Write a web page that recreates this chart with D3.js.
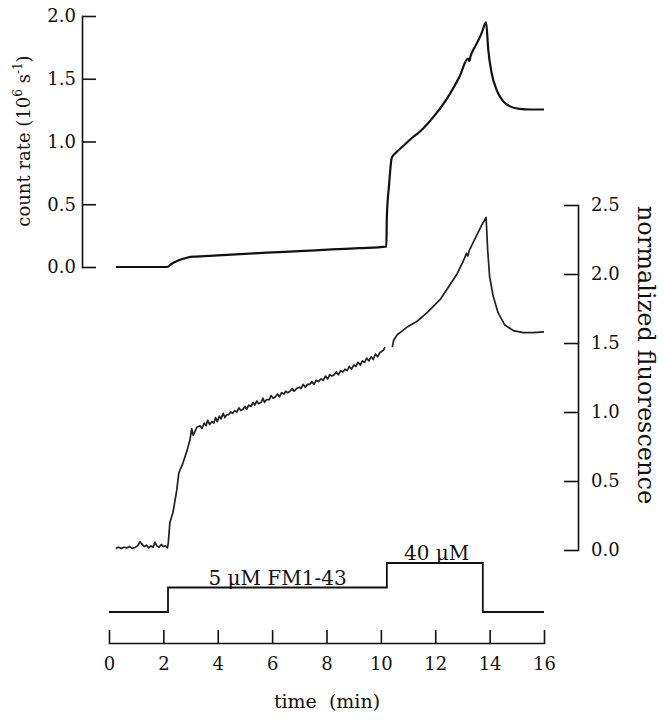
<!DOCTYPE html>
<html>
<head>
<meta charset="utf-8">
<script src="https://cdn.jsdelivr.net/npm/d3@7"></script>
<style>
  html, body { margin: 0; padding: 0; background: #fff; }
  svg { display: block; font-family: "DejaVu Serif", "Liberation Serif", serif; }
  .axis path, .axis line { stroke: #111; stroke-width: 1.6px; }
  .axis text { font-size: 18px; fill: #111; font-family: "DejaVu Serif", serif; }
</style>
</head>
<body>
<svg id="chart" width="665" height="720"></svg>
<script>
// ---- Data ----
const timeTicks = [0, 2, 4, 6, 8, 10, 12, 14, 16];
const countTicks = [0.0, 0.5, 1.0, 1.5, 2.0];
const fluoTicks = [0.0, 0.5, 1.0, 1.5, 2.0, 2.5];

// count rate (10^6 s^-1) vs time (min)
const countTime = [0.25, 1.0, 2.1, 2.17, 2.3, 2.45, 2.6, 2.8, 3.1, 4.0, 5.0, 5.8, 7.0, 8.2, 9.2, 10.2,
  10.22, 10.3, 10.4, 10.55, 10.8, 11.1, 11.44, 11.75, 12.06, 12.3, 12.54, 12.9, 13.2, 13.25, 13.3, 13.5, 13.7, 13.87,
  13.95, 14.07, 14.26, 14.5, 14.75, 15.1, 15.5, 16.0];
const countRate = [0.0, 0.0, 0.0, 0.002, 0.025, 0.042, 0.056, 0.07, 0.082, 0.092, 0.104, 0.114, 0.126, 0.14, 0.15, 0.162,
  0.4, 0.65, 0.87, 0.91, 0.96, 1.02, 1.08, 1.15, 1.23, 1.3, 1.38, 1.52, 1.66, 1.64, 1.68, 1.77, 1.86, 1.95,
  1.73, 1.55, 1.41, 1.32, 1.28, 1.26, 1.255, 1.255];

// normalized fluorescence vs time (min); null marks the gap in the record
const fluoTime = [0.25, 0.35, 0.45, 0.55, 0.65, 0.75, 0.85, 0.95, 1.05, 1.14, 1.22, 1.3, 1.38, 1.46, 1.55, 1.62, 1.69,
  1.76, 1.84, 1.92, 2.0, 2.08, 2.15,
  2.18, 2.24, 2.35, 2.49, 2.57, 2.72, 2.87, 2.98, 3.04, 3.1, 3.23,
  3.35, 3.42, 3.5, 3.57, 3.63, 3.7, 3.78, 3.86, 3.92, 3.98, 4.06, 4.12, 4.2, 4.26, 4.33, 4.4, 4.48, 4.55, 4.62, 4.7,
  4.78, 4.85, 4.93, 5.0, 5.06, 5.14, 5.22, 5.3, 5.36, 5.44, 5.5, 5.6, 5.66, 5.72, 5.8, 5.9, 5.96, 6.04, 6.12, 6.2,
  6.27, 6.35, 6.44, 6.5, 6.58, 6.66, 6.74, 6.8, 6.9, 7.0, 7.06, 7.14, 7.22, 7.3, 7.38, 7.46, 7.54, 7.62, 7.7, 7.8,
  7.88, 7.96, 8.04, 8.12, 8.2, 8.28, 8.36, 8.44, 8.52, 8.6, 8.68, 8.76, 8.84, 8.92, 9.0, 9.08, 9.16, 9.24, 9.32, 9.4,
  9.48, 9.56, 9.64, 9.72, 9.8, 9.88, 9.96, 10.04, 10.1, 10.15, 10.28,
  10.42, 10.47, 10.6, 10.8, 11.0, 11.35, 11.7, 12.0, 12.2, 12.5, 12.8, 13.0, 13.15, 13.2, 13.25, 13.5, 13.7, 13.87,
  13.93, 14.0, 14.13, 14.31, 14.56, 14.87, 15.24, 15.6, 16.0];
const fluoValue = [0.012, 0.02, 0.012, 0.02, 0.015, 0.025, 0.012, 0.018, 0.03, 0.06, 0.04, 0.025, 0.035, 0.015, 0.03, 0.02, 0.055,
  0.03, 0.02, 0.04, 0.025, 0.03, 0.015,
  0.05, 0.2, 0.27, 0.43, 0.56, 0.63, 0.72, 0.8, 0.88, 0.83, 0.89,
  0.9, 0.88, 0.92, 0.9, 0.94, 0.91, 0.93, 0.92, 0.96, 0.93, 0.97, 0.95, 0.99, 0.96, 0.98, 0.98, 1.0, 0.99, 1.01, 1.0,
  1.03, 1.01, 1.02, 1.04, 1.02, 1.05, 1.04, 1.07, 1.05, 1.08, 1.06, 1.07, 1.1, 1.07, 1.09, 1.09, 1.12, 1.1, 1.11, 1.13,
  1.11, 1.14, 1.13, 1.15, 1.14, 1.15, 1.17, 1.15, 1.17, 1.18, 1.17, 1.2, 1.18, 1.2, 1.2, 1.22, 1.2, 1.23, 1.22, 1.24,
  1.23, 1.26, 1.24, 1.27, 1.26, 1.27, 1.29, 1.27, 1.3, 1.29, 1.31, 1.3, 1.33, 1.31, 1.34, 1.33, 1.36, 1.34, 1.37, 1.36,
  1.39, 1.37, 1.4, 1.38, 1.42, 1.4, 1.43, 1.44, 1.45, 1.47, null,
  1.47, 1.52, 1.56, 1.59, 1.62, 1.66, 1.72, 1.78, 1.82, 1.91, 2.0, 2.08, 2.15, 2.13, 2.17, 2.27, 2.35, 2.41,
  2.17, 1.98, 1.84, 1.72, 1.63, 1.59, 1.575, 1.575, 1.58];

// stimulus protocol: level index (0 = none, 1 = 5 µM, 2 = 40 µM)
const stimTime = [0, 2.17, 10.22, 13.75, 16];
const stimLevel = [0, 1, 2, 0, 0];
const stimLabels = [{t: 6.2, level: 1, text: "5 \u03bcM FM1-43"}, {t: 12.05, level: 2, text: "40 \u03bcM"}];

// ---- Scales ----
const svg = d3.select("#chart");
const x = d3.scaleLinear().domain([0, 16]).range([109, 544]);
const yCount = d3.scaleLinear().domain([0, 2]).range([267, 16]);
const yFluo = d3.scaleLinear().domain([0, 2.5]).range([550, 205]);
const yStim = d3.scaleLinear().domain([0, 2]).range([612, 563]);

// ---- Axes ----
const fmt = d3.format(".1f");
svg.append("g").attr("class", "axis").attr("transform", "translate(82,0)")
  .call(d3.axisLeft(yCount).tickValues(countTicks).tickFormat(fmt).tickSizeInner(-14).tickSizeOuter(0).tickPadding(6));
svg.append("g").attr("class", "axis").attr("transform", "translate(578,0)")
  .call(d3.axisRight(yFluo).tickValues(fluoTicks).tickFormat(fmt).tickSizeInner(-14).tickSizeOuter(0).tickPadding(13));
svg.append("g").attr("class", "axis").attr("transform", "translate(0,643)")
  .call(d3.axisBottom(x).tickValues(timeTicks).tickFormat(d3.format("d")).tickSizeInner(-13).tickSizeOuter(0).tickPadding(14));
svg.selectAll(".axis .domain").attr("stroke-linecap", "square");

// ---- Axis titles ----
const lt = svg.append("text")
  .attr("transform", "translate(30,141) rotate(-90)")
  .attr("text-anchor", "middle").attr("font-size", 18).attr("fill", "#111");
lt.append("tspan").text("count rate (10");
lt.append("tspan").attr("dy", -8).attr("font-size", 12).text("6");
lt.append("tspan").attr("dy", 8).text(" s");
lt.append("tspan").attr("dy", -8).attr("font-size", 12).text("-1");
lt.append("tspan").attr("dy", 8).text(")");

svg.append("text")
  .attr("transform", "translate(638,355) rotate(90)")
  .attr("text-anchor", "middle").attr("font-size", 24).attr("fill", "#111")
  .text("normalized fluorescence");

svg.append("text")
  .attr("x", 327).attr("y", 708)
  .attr("text-anchor", "middle").attr("font-size", 19).attr("fill", "#111")
  .style("white-space", "pre")
  .text("time  (min)");

// ---- Traces ----
const countData = countTime.map((t, i) => ({t, v: countRate[i]}));
svg.append("path").datum(countData)
  .attr("fill", "none").attr("stroke", "#111").attr("stroke-width", 2.2).attr("stroke-linejoin", "round")
  .attr("d", d3.line().x(d => x(d.t)).y(d => yCount(d.v)).curve(d3.curveMonotoneX));

const fluoData = fluoTime.map((t, i) => ({t, v: fluoValue[i]}));
svg.append("path").datum(fluoData)
  .attr("fill", "none").attr("stroke", "#222").attr("stroke-width", 1.7).attr("stroke-linejoin", "round")
  .attr("d", d3.line().defined(d => d.v !== null).x(d => x(d.t)).y(d => yFluo(d.v)));

// ---- Stimulus ----
const stimData = stimTime.map((t, i) => ({t, v: stimLevel[i]}));
svg.append("path").datum(stimData)
  .attr("fill", "none").attr("stroke", "#111").attr("stroke-width", 1.8)
  .attr("d", d3.line().x(d => x(d.t)).y(d => yStim(d.v)).curve(d3.curveStepAfter));

svg.selectAll(".stimlab").data(stimLabels).enter().append("text")
  .attr("class", "stimlab")
  .attr("x", d => x(d.t)).attr("y", d => yStim(d.level) - 3)
  .attr("text-anchor", "middle").attr("font-size", 20).attr("fill", "#111")
  .text(d => d.text);
</script>
</body>
</html>
